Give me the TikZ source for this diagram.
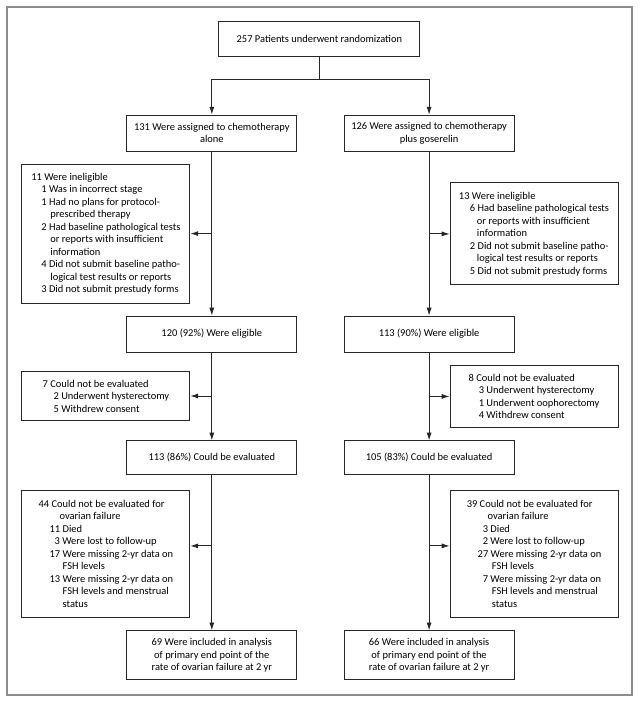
\documentclass[tikz,border=0pt]{standalone}
\usepackage{fontspec}
\setmainfont{Carlito}
\usetikzlibrary{arrows.meta}

\tikzset{
    box/.style={draw=black!85, line width=0.8pt, align=center, inner sep=2pt,
        font=\fontsize{9.3pt}{11.1pt}\selectfont},
    sidebox/.style={box, align=left, minimum width=5.25cm},
    armbox/.style={box, minimum width=5.31cm},
    link/.style={draw=black!85, line width=0.8pt},
    arr/.style={link, -{Latex[length=7pt,width=4.5pt]}}
}

\begin{document}
\begin{tikzpicture}
    \useasboundingbox (0,0) rectangle (20,-21.97);
    \draw[black!45, line width=1pt] (0.22,-0.22) rectangle (19.75,-21.72);

    % Randomisierung
    \node[box, minimum width=6.28cm, minimum height=1.09cm] (rand) at (9.98,-1.23)
        {257 Patients underwent randomization};
    \coordinate (split) at (9.98,-2.47);

    % Arm 1: Chemotherapie allein
    \node[armbox, minimum height=1.125cm] (arm1) at (6.62,-4.16)
        {131 Were assigned to chemotherapy\\alone};
    \node[sidebox, minimum height=4.34cm] (inel1) at (3.31,-7.30)
        {11 Were ineligible\\
        \hspace*{0.96em}1 Was in incorrect stage\\
        \hspace*{0.96em}1 Had no plans for protocol-\\
        \hspace*{1.82em}prescribed therapy\\
        \hspace*{0.96em}2 Had baseline pathological tests\\
        \hspace*{1.82em}or reports with insufficient\\
        \hspace*{1.82em}information\\
        \hspace*{0.96em}4 Did not submit baseline patho-\\
        \hspace*{1.82em}logical test results or reports\\
        \hspace*{0.96em}3 Did not submit prestudy forms};
    \node[armbox, minimum height=1.125cm] (elig1) at (6.62,-10.44)
        {120 (92\%) Were eligible};
    \node[sidebox, minimum height=1.56cm] (noev1) at (3.31,-12.375)
        {7 Could not be evaluated\\
        \hspace*{1.05em}2 Underwent hysterectomy\\
        \hspace*{1.05em}5 Withdrew consent};
    \node[armbox, minimum height=1.06cm] (eval1) at (6.62,-14.31)
        {113 (86\%) Could be evaluated};
    \node[sidebox, minimum height=3.97cm] (fail1) at (3.31,-17.30)
        {44 Could not be evaluated for\\
        \hspace*{2em}ovarian failure\\
        \hspace*{1.05em}11 Died\\
        \hspace*{1.53em}3 Were lost to follow-up\\
        \hspace*{1.05em}17 Were missing 2-yr data on\\
        \hspace*{2.3em}FSH levels\\
        \hspace*{1.05em}13 Were missing 2-yr data on\\
        \hspace*{2.3em}FSH levels and menstrual\\
        \hspace*{2.3em}status};
    \node[armbox, minimum height=1.53cm] (incl1) at (6.62,-20.48)
        {69 Were included in analysis\\of primary end point of the\\rate of ovarian failure at 2 yr};

    % Arm 2: Chemotherapie plus Goserelin
    \node[armbox, minimum height=1.125cm] (arm2) at (13.41,-4.16)
        {126 Were assigned to chemotherapy\\plus goserelin};
    \node[sidebox, minimum height=3.19cm] (inel2) at (16.69,-7.31)
        {13 Were ineligible\\
        \hspace*{1.05em}6 Had baseline pathological tests\\
        \hspace*{1.72em}or reports with insufficient\\
        \hspace*{1.72em}information\\
        \hspace*{1.05em}2 Did not submit baseline patho-\\
        \hspace*{1.72em}logical test results or reports\\
        \hspace*{1.05em}5 Did not submit prestudy forms};
    \node[armbox, minimum height=1.125cm] (elig2) at (13.41,-10.44)
        {113 (90\%) Were eligible};
    \node[sidebox, minimum height=1.91cm] (noev2) at (16.69,-12.39)
        {8 Could not be evaluated\\
        \hspace*{0.96em}3 Underwent hysterectomy\\
        \hspace*{0.96em}1 Underwent oophorectomy\\
        \hspace*{0.96em}4 Withdrew consent};
    \node[armbox, minimum height=1.06cm] (eval2) at (13.41,-14.31)
        {105 (83\%) Could be evaluated};
    \node[sidebox, minimum height=3.97cm] (fail2) at (16.69,-17.30)
        {39 Could not be evaluated for\\
        \hspace*{2em}ovarian failure\\
        \hspace*{1.53em}3 Died\\
        \hspace*{1.53em}2 Were lost to follow-up\\
        \hspace*{1.05em}27 Were missing 2-yr data on\\
        \hspace*{2.4em}FSH levels\\
        \hspace*{1.53em}7 Were missing 2-yr data on\\
        \hspace*{2.4em}FSH levels and menstrual\\
        \hspace*{2.4em}status};
    \node[armbox, minimum height=1.53cm] (incl2) at (13.41,-20.48)
        {66 Were included in analysis\\of primary end point of the\\rate of ovarian failure at 2 yr};

    % Verbindungen
    \draw[link] (rand.south) -- (split);
    \draw[arr] (split) -| (arm1.north);
    \draw[arr] (split) -| (arm2.north);

    \coordinate (cut1) at (6.62,-17.06);
    \coordinate (cut2) at (13.41,-17.06);
    \foreach \i in {1,2} {
        \draw[arr] (arm\i) -- (elig\i);
        \draw[arr] (elig\i) -- (eval\i);
        \draw[arr] (eval\i) -- (incl\i);
        \draw[arr] (inel\i -| arm\i.south) -- (inel\i);
        \draw[arr] (noev\i -| arm\i.south) -- (noev\i);
    }
    \draw[arr] (cut1) -- (cut1 -| fail1.east);
    \draw[arr] (cut2) -- (cut2 -| fail2.west);
\end{tikzpicture}
\end{document}
